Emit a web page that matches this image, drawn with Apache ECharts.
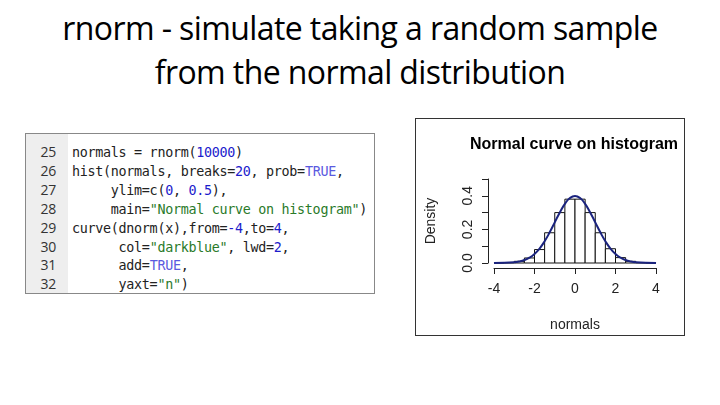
<!DOCTYPE html>
<html><head><meta charset="utf-8">
<script src="https://cdn.jsdelivr.net/npm/echarts@6/dist/echarts.min.js"></script>
<style>
body{margin:0;width:720px;height:405px;background:#fff;position:relative;overflow:hidden;font-family:"Open Sans",sans-serif}
#title{position:absolute;left:0;top:6px;width:720px;text-align:center;font-size:32px;line-height:44px;color:#000;letter-spacing:-0.6px}
#code{position:absolute;left:25px;top:133px;width:348px;height:159px;border:1px solid #888;background:#fff;font-family:"DejaVu Sans Mono",monospace;font-size:13.4px;overflow:hidden}
#gut{position:absolute;left:0;top:0;width:42px;height:100%;background:#eee}
.ln{position:absolute;left:0;height:18px;white-space:pre;color:#222;letter-spacing:-0.3px}
.ln b{font-weight:normal;display:inline-block;width:30px;text-align:right;margin-right:16px;color:#333;font-family:"Open Sans",sans-serif;font-size:14px}
.n{color:#1c1ccc}.k{color:#5a5ae0}.s{color:#2a7a2a}
#chartbox{position:absolute;left:415px;top:118px;width:268px;height:216px;border:1px solid #333}
#chart{width:268px;height:216px}
</style></head><body>
<div id="title">rnorm - simulate taking a random sample<br>from the normal distribution</div>
<div id="code"><div id="gut"></div></div>
<div id="chartbox"><div id="chart"></div></div>
<script>
const codeLines=[
 [25,'normals = rnorm(<span class="n">10000</span>)'],
 [26,'hist(normals, breaks=<span class="n">20</span>, prob=<span class="k">TRUE</span>,'],
 [27,'     ylim=c(<span class="n">0</span>, <span class="n">0.5</span>),'],
 [28,'     main=<span class="s">"Normal curve on histogram"</span>)'],
 [29,'curve(dnorm(x),from=<span class="n">-4</span>,to=<span class="n">4</span>,'],
 [30,'      col=<span class="s">"darkblue"</span>, lwd=<span class="n">2</span>,'],
 [31,'      add=<span class="k">TRUE</span>,'],
 [32,'      yaxt=<span class="s">"n"</span>)']];
const code=document.getElementById('code');
codeLines.forEach((l,i)=>{const d=document.createElement('div');d.className='ln';d.style.top=(8+i*18.9)+'px';d.innerHTML='<b>'+l[0]+'</b>'+l[1];code.appendChild(d);});

const binStarts=[-4,-3.5,-3,-2.5,-2,-1.5,-1,-0.5,0,0.5,1,1.5,2,2.5,3,3.5];
const binDensity=[0.0004,0.002,0.01,0.03,0.08,0.18,0.30,0.38,0.38,0.30,0.18,0.085,0.032,0.01,0.002,0.0004];
const curveX=[-4,-3.5,-3,-2.75,-2.5,-2.25,-2,-1.75,-1.5,-1.25,-1,-0.75,-0.5,-0.25,0,0.25,0.5,0.75,1,1.25,1.5,1.75,2,2.25,2.5,2.75,3,3.5,4];
const curveY=[0.0001,0.0009,0.0044,0.0091,0.0175,0.0317,0.054,0.0863,0.1295,0.1826,0.242,0.3011,0.3521,0.3867,0.3989,0.3867,0.3521,0.3011,0.242,0.1826,0.1295,0.0863,0.054,0.0317,0.0175,0.0091,0.0044,0.0009,0.0001];
const xTicks=[-4,-2,0,2,4];
const yTickLabels=['0.0','0.2','0.4'];

const c=echarts.init(document.getElementById('chart'));
c.setOption({
 animation:false,
 title:{text:'Normal curve on histogram',left:49,top:13,textStyle:{fontFamily:'Liberation Sans',fontSize:16,fontWeight:'bold',color:'#000'}},
 grid:{left:73,right:28,top:60,bottom:72},
 xAxis:{type:'value',min:-4,max:4,interval:2,offset:5,name:'normals',nameLocation:'middle',nameGap:50,
  nameTextStyle:{fontFamily:'Liberation Sans',fontSize:14,color:'#222'},
  axisLine:{onZero:false,lineStyle:{color:'#222'}},axisTick:{length:6,lineStyle:{color:'#222'}},
  axisLabel:{fontFamily:'Liberation Sans',fontSize:14,color:'#222',margin:14},splitLine:{show:false}},
 yAxis:{type:'value',min:0,max:0.5,interval:0.1,offset:6,name:'Density',nameLocation:'middle',nameGap:50,
  nameTextStyle:{fontFamily:'Liberation Sans',fontSize:14,color:'#222'},
  axisLine:{show:true,onZero:false,lineStyle:{color:'#222'}},axisTick:{show:true,length:6,lineStyle:{color:'#222'}},
  axisLabel:{rotate:90,fontFamily:'Liberation Sans',fontSize:14,color:'#222',margin:13,
   formatter:v=>{const i=Math.round(v*10);return i%2===0&&i<=4?yTickLabels[i/2]:'';}},splitLine:{show:false}},
 series:[
  {type:'custom',data:binStarts.map((s,i)=>[s,binDensity[i]]),
   renderItem:(p,api)=>{const a=api.coord([api.value(0),api.value(1)]);const b=api.coord([api.value(0)+0.5,0]);
    return {type:'rect',shape:{x:a[0],y:a[1],width:b[0]-a[0],height:b[1]-a[1]},style:{fill:'#fff',stroke:'#111',lineWidth:1}};}},
  {type:'line',data:curveX.map((x,i)=>[x,curveY[i]]),smooth:true,symbol:'none',lineStyle:{color:'#1a237e',width:2}}
 ]});
</script></body></html>
